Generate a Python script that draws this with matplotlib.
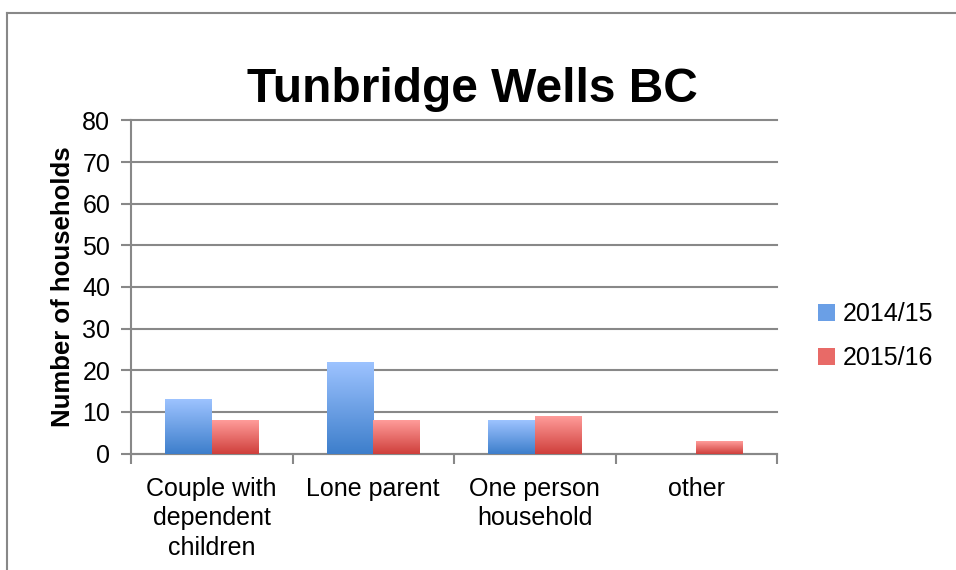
import matplotlib
matplotlib.use("Agg")
import matplotlib.pyplot as plt
import numpy as np
from matplotlib.colors import LinearSegmentedColormap
from matplotlib.lines import Line2D
from matplotlib.patches import Patch

plt.rcParams['font.family'] = ['Liberation Sans', 'DejaVu Sans']

categories = ["Couple with\ndependent\nchildren", "Lone parent", "One person\nhousehold", "other"]
series_names = ["2014/15", "2015/16"]
values_2014 = [13, 22, 8, 0]
values_2015 = [8, 8, 9, 3]
title = "Tunbridge Wells BC"
ylabel = "Number of households"
yticks = [0, 10, 20, 30, 40, 50, 60, 70, 80]

blue_top, blue_bot = "#9DC3FF", "#3D7ECB"
red_top, red_bot = "#FF9C9A", "#CF3F3B"

fig = plt.figure(figsize=(9.56, 5.70), dpi=100)
ax = fig.add_axes([131/956, 1-453.5/570, (777-131)/956, (453.5-120.5)/570])

x = np.arange(len(categories))
w = 0.287
b1 = ax.bar(x - w/2, values_2014, w, color=blue_bot, zorder=3)
b2 = ax.bar(x + w/2, values_2015, w, color=red_bot, zorder=3)

def grad(bars, top, bot):
    cmap = LinearSegmentedColormap.from_list("g", [bot, top])
    for p in bars:
        h = p.get_height()
        if h <= 0:
            continue
        x0, y0 = p.get_x(), p.get_y()
        im = ax.imshow(np.linspace(0, 1, 256).reshape(-1, 1), cmap=cmap, origin='lower',
                       extent=[x0, x0 + p.get_width(), y0, y0 + h], aspect='auto', zorder=3.5)
        im.set_clip_path(p)

grad(b1, blue_top, blue_bot)
grad(b2, red_top, red_bot)

ax.set_xlim(-0.5, len(categories) - 0.5)
ax.set_ylim(0, 80)
ax.set_yticks(yticks)
ax.set_yticklabels([str(v) for v in yticks], fontsize=18)
ax.yaxis.grid(True, color="#888888", linewidth=1.5, zorder=0)
for gl in ax.get_ygridlines():
    gl.set_clip_on(False)
ax.set_axisbelow(True)

ax.set_xticks(np.arange(-0.5, len(categories), 1.0))
ax.set_xticklabels([])
ax.set_xticks(x, minor=True)
ax.set_xticklabels(categories, minor=True, fontsize=18, linespacing=1.28)
ax.tick_params(axis='x', which='minor', length=0, pad=17)
ax.tick_params(axis='x', which='major', length=7, width=1.5, color="#888888", direction='out')
ax.tick_params(axis='y', length=7, width=1.5, color="#888888", direction='out', pad=8)

for s in ['top', 'right']:
    ax.spines[s].set_visible(False)
for s in ['left', 'bottom']:
    ax.spines[s].set_color("#888888")
    ax.spines[s].set_linewidth(1.5)

ax.set_ylabel(ylabel, fontsize=18.5, fontweight='bold', labelpad=5)
fig.text(472/956, 1-89/570, title, fontsize=34.5, fontweight='bold', ha='center', va='center')

handles = [Patch(facecolor="#6A9FE6", edgecolor='none'), Patch(facecolor="#E86A67", edgecolor='none')]
fig.legend(handles, series_names, loc='center left', bbox_to_anchor=(795/956, 1-336/570),
           frameon=False, fontsize=18, handlelength=0.7, handleheight=0.7,
           handletextpad=0.3, labelspacing=0.8)

fig.add_artist(Line2D([6.5/956, 6.5/956], [0, 1-13/570], transform=fig.transFigure, color="#888888", lw=1.5))
fig.add_artist(Line2D([6.5/956, 1], [1-13/570, 1-13/570], transform=fig.transFigure, color="#888888", lw=1.5))

fig.savefig("out.png", dpi=100)
